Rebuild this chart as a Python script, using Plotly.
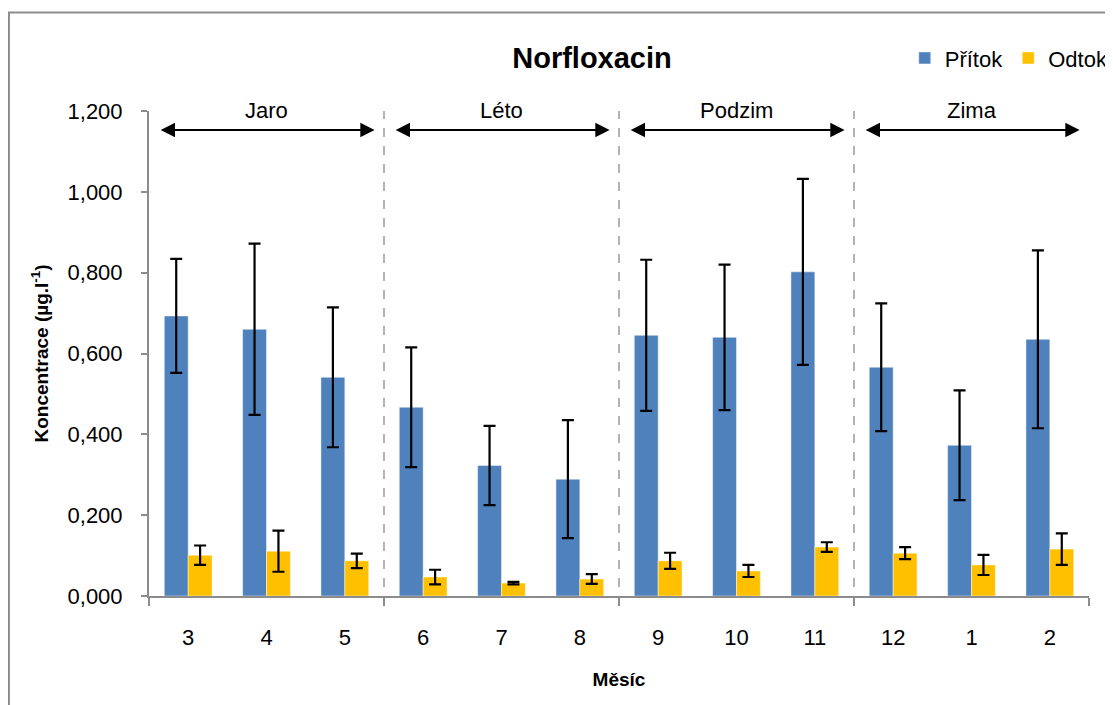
import plotly.graph_objects as go

months = ["3", "4", "5", "6", "7", "8", "9", "10", "11", "12", "1", "2"]
pritok = [0.693, 0.660, 0.541, 0.467, 0.323, 0.289, 0.645, 0.640, 0.802, 0.566, 0.373, 0.635]
pritok_err = [0.141, 0.212, 0.173, 0.148, 0.098, 0.146, 0.187, 0.180, 0.230, 0.158, 0.136, 0.220]
odtok = [0.101, 0.111, 0.087, 0.047, 0.032, 0.042, 0.087, 0.062, 0.121, 0.106, 0.077, 0.116]
odtok_err = [0.024, 0.051, 0.018, 0.018, 0.003, 0.012, 0.020, 0.015, 0.012, 0.015, 0.025, 0.039]
seasons = ["Jaro", "Léto", "Podzim", "Zima"]
months_per_season = 3
y_ticks = [0.0, 0.2, 0.4, 0.6, 0.8, 1.0, 1.2]
y_ticktext = ["0,000", "0,200", "0,400", "0,600", "0,800", "1,000", "1,200"]

FONT = "Liberation Sans, Arial, sans-serif"
GRAY = "#8c8c8c"
xs = list(range(len(months)))

fig = go.Figure()
fig.add_trace(go.Bar(
    x=xs, y=pritok, name="Přítok", marker_color="#4F81BD",
    marker_line=dict(color="rgba(255,255,255,0.45)", width=1),
    error_y=dict(type="data", array=pritok_err, color="black", thickness=2.2, width=6),
))
fig.add_trace(go.Bar(
    x=xs, y=odtok, name="Odtok", marker_color="#FFC000",
    marker_line=dict(color="rgba(255,255,255,0.45)", width=1),
    error_y=dict(type="data", array=odtok_err, color="black", thickness=2.2, width=6),
))

boundaries = [-0.5 + i * months_per_season for i in range(len(seasons) + 1)]

shapes = []
# dashed dividers between seasons
for b in boundaries[1:-1]:
    shapes.append(dict(type="line", xref="x", yref="y", x0=b, x1=b, y0=-0.022, y1=1.2,
                       line=dict(color="#9a9a9a", width=1.5, dash="dash")))
# outer chart border
shapes.append(dict(type="rect", xref="paper", yref="paper",
                   x0=-0.149, x1=1.03, y0=-0.25, y1=1.203,
                   line=dict(color=GRAY, width=2), fillcolor="rgba(0,0,0,0)", layer="below"))

annotations = []
for i, s in enumerate(seasons):
    b = boundaries[i]
    annotations.append(dict(x=b + months_per_season / 2, y=1.002, xref="x", yref="paper",
                            text=s, showarrow=False, font=dict(family=FONT, size=22, color="black"),
                            yanchor="middle"))
    annotations.append(dict(x=b + months_per_season - 0.12, y=1.153, ax=b + 0.13, ay=1.153,
                            xref="x", yref="y", axref="x", ayref="y", text="",
                            showarrow=True, arrowhead=2, startarrowhead=2, arrowside="end+start",
                            arrowwidth=2.2, arrowsize=1.3, startarrowsize=1.3, arrowcolor="black"))

fig.update_layout(
    width=1105, height=697,
    margin=dict(l=141, r=24, t=103, b=109, autoexpand=False),
    paper_bgcolor="white", plot_bgcolor="white",
    font=dict(family=FONT, size=22, color="black"),
    barmode="group", bargap=0.39, bargroupgap=0,
    title=dict(text="<b>Norfloxacin</b>", x=0.5285, xanchor="center", y=0.928, yanchor="middle",
               font=dict(family=FONT, size=29, color="black")),
    legend=dict(orientation="h", x=0.804, y=1.109, xanchor="left", yanchor="middle",
                font=dict(family=FONT, size=22), bgcolor="rgba(0,0,0,0)"),
    shapes=shapes, annotations=annotations,
    xaxis=dict(
        range=[-0.5, len(months) - 0.5], tickvals=xs, ticktext=months,
        showline=True, linecolor=GRAY, linewidth=2, showgrid=False, zeroline=False,
        ticks="outside", ticklen=21, tickcolor="rgba(0,0,0,0)",
        tickfont=dict(family=FONT, size=22),
        minor=dict(tickvals=boundaries, ticks="outside", ticklen=8, tickcolor=GRAY, tickwidth=2),
        title=dict(text="<b>Měsíc</b>", font=dict(family=FONT, size=19), standoff=23),
    ),
    yaxis=dict(
        range=[0, 1.2], tickvals=y_ticks, ticktext=y_ticktext,
        showline=True, linecolor=GRAY, linewidth=2, showgrid=False, zeroline=False,
        ticks="outside", ticklen=6, tickcolor=GRAY, tickwidth=2,
        ticklabelstandoff=14,
        tickfont=dict(family=FONT, size=22),
        title=dict(text="<b>Koncentrace (µg.l<sup>-1</sup>)</b>", font=dict(family=FONT, size=19), standoff=14),
    ),
)

fig.write_html("out.html")
